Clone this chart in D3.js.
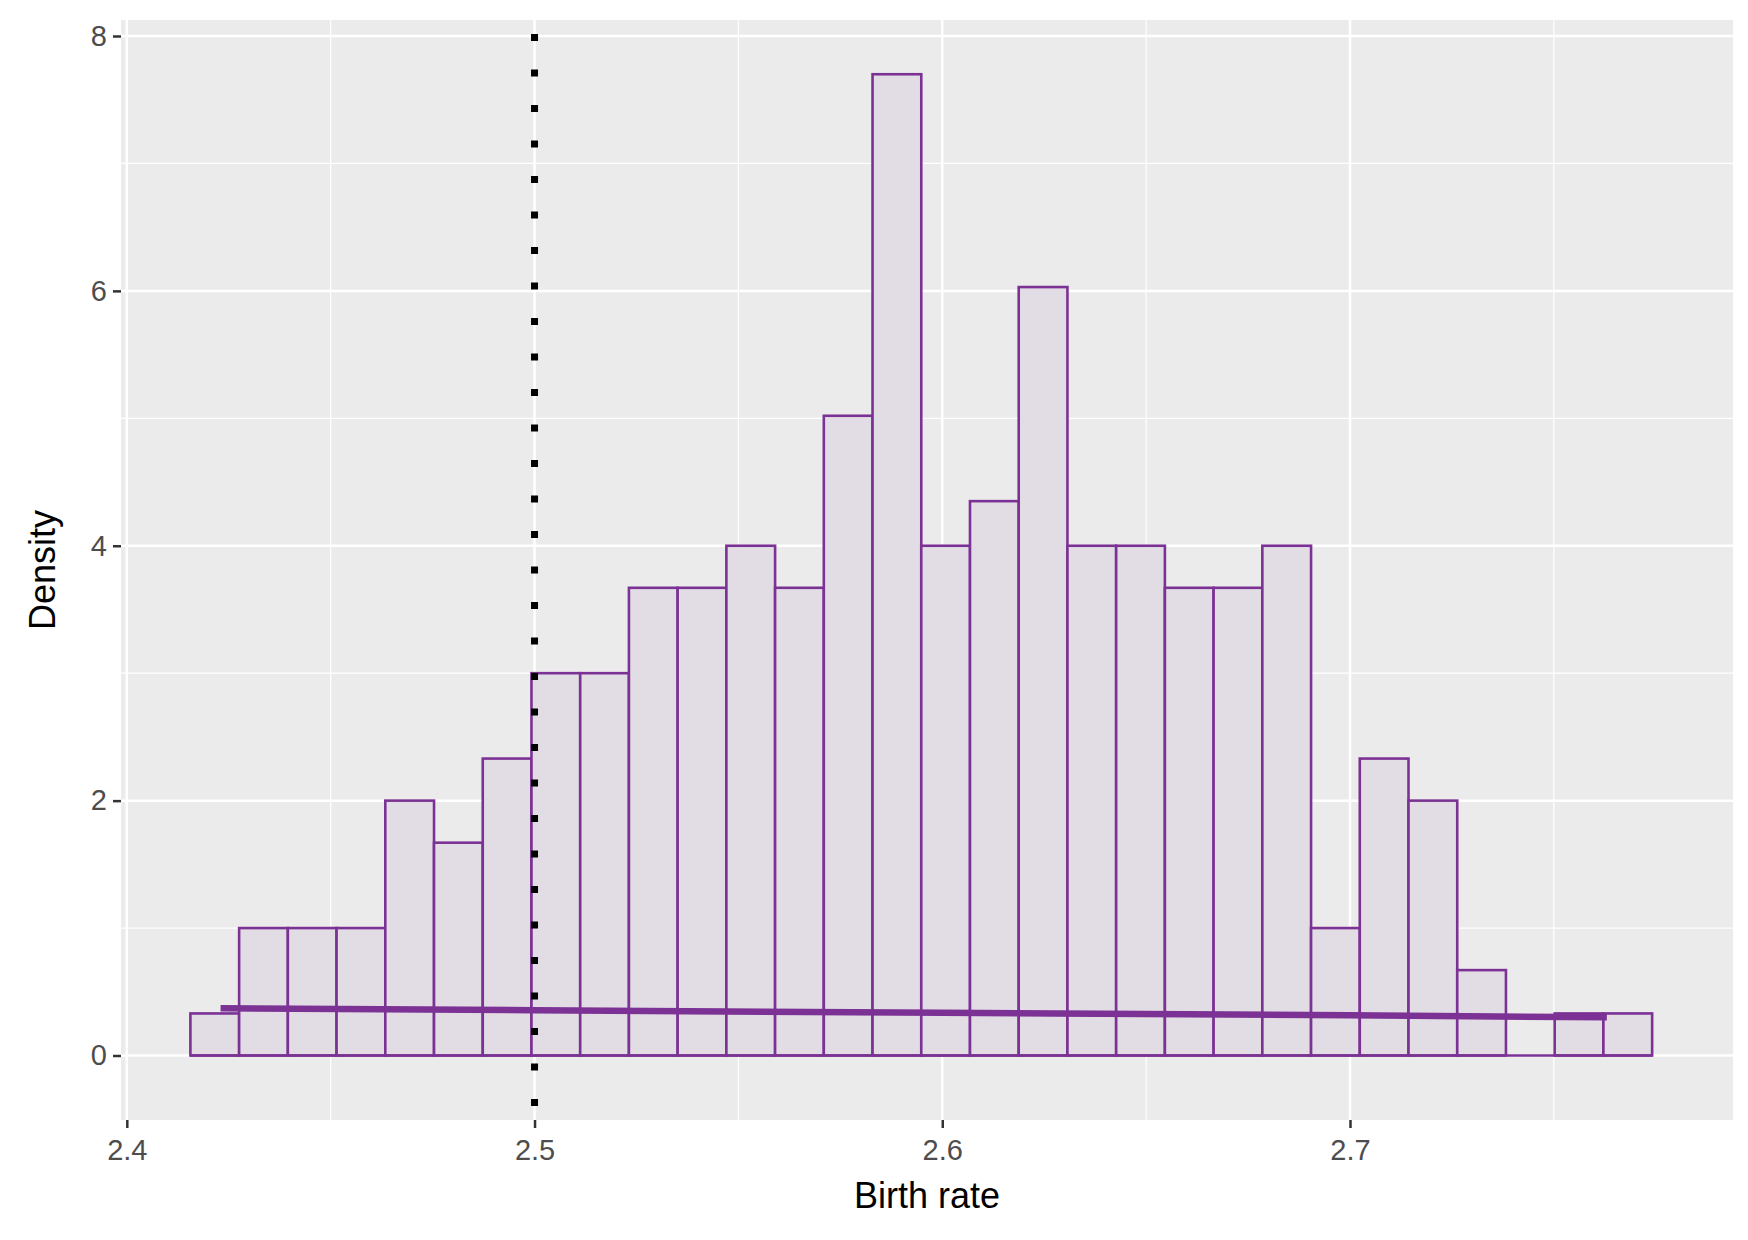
<!DOCTYPE html><html><head><meta charset="utf-8">
<script src="https://cdn.jsdelivr.net/npm/d3@7"></script>
<style>body{margin:0;background:#fff}</style></head><body>
<script>
const binStart = 2.4156, binWidth = 0.01195;
const densities = [0.33,1,1,1,2,1.67,2.33,3,3,3.67,3.67,4,3.67,5.02,7.7,4,4.35,6.03,4,4,3.67,3.67,4,1,2.33,2,0.67,0,0.33,0.33];
const curveX = [2.423,2.5,2.6,2.7,2.763];
const curveY = [0.37,0.355,0.335,0.315,0.30];
const xTicks = [2.4,2.5,2.6,2.7];
const yTicks = [0,2,4,6,8];
const vline = 2.5;

const W=1748,H=1240, L=121,R=1733,T=20,B=1120;
const x=d3.scaleLinear().domain([2.4,2.7]).range([126.8,1350]);
const y=d3.scaleLinear().domain([0,8]).range([1055.5,36]);
const svg=d3.select("body").append("svg").attr("width",W).attr("height",H).style("font-family","'Liberation Sans',Arial,sans-serif");
svg.append("rect").attr("x",L).attr("y",T).attr("width",R-L).attr("height",B-T).attr("fill","#ebebeb");
const g=svg.append("g");
const minorX=[2.45,2.55,2.65,2.75], minorY=[1,3,5,7];
minorX.forEach(v=>g.append("line").attr("x1",x(v)).attr("x2",x(v)).attr("y1",T).attr("y2",B).attr("stroke","#fff").attr("stroke-width",1.2));
minorY.forEach(v=>g.append("line").attr("y1",y(v)).attr("y2",y(v)).attr("x1",L).attr("x2",R).attr("stroke","#fff").attr("stroke-width",1.2));
xTicks.forEach(v=>g.append("line").attr("x1",x(v)).attr("x2",x(v)).attr("y1",T).attr("y2",B).attr("stroke","#fff").attr("stroke-width",2.5));
yTicks.forEach(v=>g.append("line").attr("y1",y(v)).attr("y2",y(v)).attr("x1",L).attr("x2",R).attr("stroke","#fff").attr("stroke-width",2.5));
g.selectAll("rect.bar").data(densities).join("rect").attr("class","bar")
 .attr("x",(d,i)=>x(binStart+i*binWidth)).attr("width",x(binStart+binWidth)-x(binStart))
 .attr("y",d=>y(d)).attr("height",d=>y(0)-y(d))
 .attr("fill","#e2dde5").attr("stroke","#7b3294").attr("stroke-width",2.6);
g.append("line").attr("x1",x(binStart)).attr("x2",x(binStart+densities.length*binWidth)).attr("y1",y(0)).attr("y2",y(0)).attr("stroke","#7b3294").attr("stroke-width",2.6);
const pts=curveX.map((v,i)=>[v,curveY[i]]);
g.append("path").attr("d",d3.line().x(d=>x(d[0])).y(d=>y(d[1]))(pts)).attr("fill","none").attr("stroke","#7b3294").attr("stroke-width",6.5);
g.append("line").attr("x1",x(vline)).attr("x2",x(vline)).attr("y1",T+14).attr("y2",B).attr("stroke","#000").attr("stroke-width",7).attr("stroke-dasharray","7,28.5");
const xa=svg.append("g").attr("transform",`translate(0,${B})`).call(d3.axisBottom(x).tickValues(xTicks).tickFormat(d3.format(".1f")).tickSize(8).tickPadding(6));
const ya=svg.append("g").attr("transform",`translate(${L},0)`).call(d3.axisLeft(y).tickValues(yTicks).tickSize(8).tickPadding(6));
[xa,ya].forEach(a=>{a.select(".domain").remove();a.selectAll("line").attr("stroke","#333").attr("stroke-width",2.5);a.selectAll("text").attr("fill","#4d4d4d").style("font-size","29px").style("font-family","'Liberation Sans',Arial,sans-serif");});
xa.selectAll("text").attr("dy","0.9em");
svg.append("text").attr("x",(L+R)/2).attr("y",1208).attr("text-anchor","middle").style("font-size","36px").text("Birth rate");
svg.append("text").attr("transform",`translate(55,${(T+B)/2}) rotate(-90)`).attr("text-anchor","middle").style("font-size","36px").text("Density");
</script></body></html>
